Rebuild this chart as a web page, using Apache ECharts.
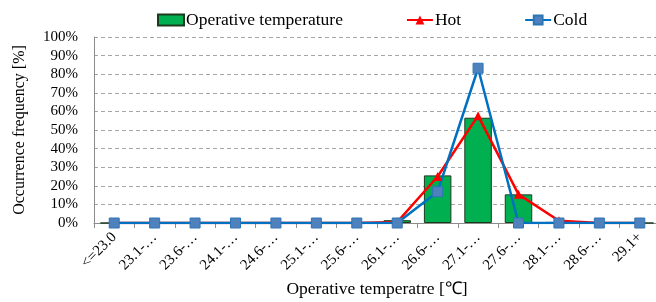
<!DOCTYPE html>
<html>
<head>
<meta charset="utf-8">
<script src="https://cdn.jsdelivr.net/npm/echarts@6/dist/echarts.min.js"></script>
<style>
  html, body { margin: 0; padding: 0; background: #fff; }
  #chart { width: 656px; height: 302px; }
</style>
</head>
<body>
<div id="chart"></div>
<script>
// temperature bins (labels as truncated in the source)
const categories = ['<=23.0', '23.1-…', '23.6-…', '24.1-…', '24.6-…', '25.1-…', '25.6-…',
  '26.1-…', '26.6-…', '27.1-…', '27.6-…', '28.1-…', '28.6-…', '29.1+']
const operative = [0, 0, 0, 0, 0, 0, 0, 1.5, 25.6, 56.6, 15.4, 0.6, 0, 0]
const hot = [0, 0, 0, 0, 0, 0, 0, 0.5, 25, 57.7, 15.4, 1.2, 0, 0]
const cold = [0, 0, 0, 0, 0, 0, 0, 0, 16.8, 83.2, 0, 0, 0, 0]

const font = '"Liberation Serif", "Times New Roman", serif'
const chart = echarts.init(document.getElementById('chart'))

chart.setOption({
  animation: false,
  textStyle: { fontFamily: font, color: '#000' },
  legend: {
    top: 6, left: 152,
    itemWidth: 26, itemHeight: 11, itemGap: 63,
    textStyle: { fontFamily: font, fontSize: 17.5, color: '#000', padding: [0, 0, 0, -3] },
    data: [
      { name: 'Operative temperature', icon: 'rect' },
      'Hot',
      'Cold',
    ],
  },
  grid: { left: 94, right: -4, top: 37, bottom: 79, outerBoundsMode: 'none' },
  xAxis: {
    type: 'category',
    data: categories,
    name: 'Operative temperatre [℃]',
    nameLocation: 'middle',
    nameGap: 55,
    nameTextStyle: { fontFamily: font, fontSize: 17.5, color: '#000' },
    axisLine: { lineStyle: { color: '#8c8c8c', width: 1 } },
    axisTick: { show: true, length: 5, lineStyle: { color: '#8c8c8c' } },
    axisLabel: { rotate: 45, margin: 12, fontFamily: font, fontSize: 15, color: '#000', interval: 0 },
  },
  yAxis: {
    type: 'value',
    min: 0, max: 100, interval: 10,
    name: 'Occurrence frequency [%]',
    nameLocation: 'middle',
    nameGap: 66,
    nameTextStyle: { fontFamily: font, fontSize: 16, color: '#000' },
    axisLine: { show: true, lineStyle: { color: '#8c8c8c' } },
    axisTick: { show: false },
    axisLabel: { formatter: '{value}%', margin: 16, fontFamily: font, fontSize: 15, color: '#000' },
    splitLine: { lineStyle: { color: '#a6a6a6', type: [4, 3], width: 1 } },
  },
  series: [
    {
      name: 'Operative temperature',
      type: 'bar',
      data: operative,
      barWidth: '68%',
      itemStyle: { color: '#00b050', borderColor: '#1e3a1e', borderWidth: 1 },
    },
    {
      name: 'Hot',
      type: 'line',
      data: hot,
      symbol: 'triangle',
      symbolSize: 9,
      lineStyle: { color: '#ff0000', width: 2.5 },
      itemStyle: { color: '#ff0000' },
    },
    {
      name: 'Cold',
      type: 'line',
      data: cold,
      symbol: 'rect',
      symbolSize: 10,
      lineStyle: { color: '#0070c0', width: 2.5 },
      itemStyle: { color: '#4f81bd', borderColor: '#2e75b6', borderWidth: 1 },
    },
  ],
})
</script>
</body>
</html>
